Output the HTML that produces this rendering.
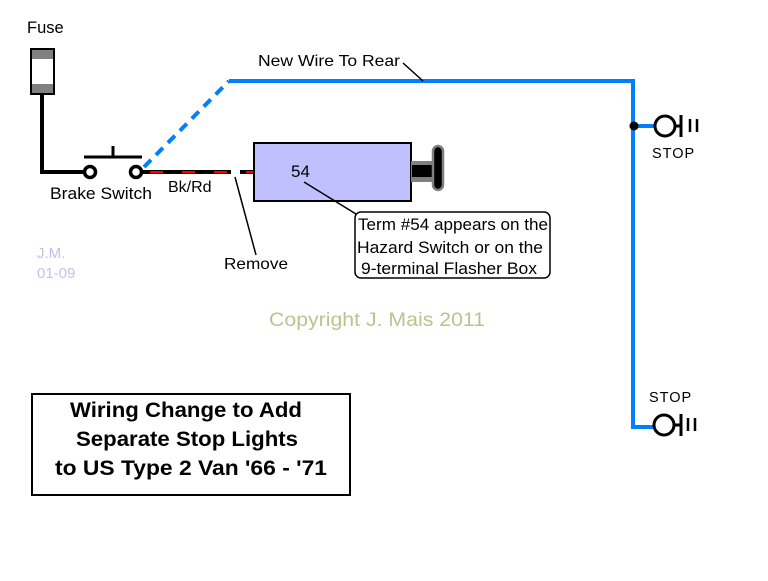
<!DOCTYPE html>
<html><head><style>html,body{margin:0;padding:0;background:#fff}</style></head>
<body>
<svg width="768" height="576" viewBox="0 0 768 576" xmlns="http://www.w3.org/2000/svg" font-family="Liberation Sans, sans-serif">
<rect width="768" height="576" fill="#fff"/>
<text x="27" y="33" font-size="16.5">Fuse</text>
<rect x="31" y="49" width="23" height="45" fill="#fff" stroke="#000" stroke-width="2"/>
<rect x="32" y="50" width="21" height="9" fill="#808080"/>
<rect x="32" y="84" width="21" height="9" fill="#808080"/>
<polyline points="42,94 42,172 86,172" fill="none" stroke="#000" stroke-width="4"/>
<line x1="84" y1="157" x2="142" y2="157" stroke="#000" stroke-width="3"/>
<line x1="113" y1="146" x2="113" y2="157" stroke="#000" stroke-width="3"/>
<circle cx="90" cy="172" r="5.5" fill="#fff" stroke="#000" stroke-width="3.5"/>
<circle cx="136" cy="172" r="5.5" fill="#fff" stroke="#000" stroke-width="3.5"/>
<text x="50" y="199" font-size="16.5" textLength="102" lengthAdjust="spacingAndGlyphs">Brake Switch</text>
<line x1="144" y1="167" x2="229" y2="81" stroke="#0080ff" stroke-width="4" stroke-dasharray="10,7"/>
<polyline points="229,81 633,81 633,427 655,427" fill="none" stroke="#0080ff" stroke-width="4"/>
<line x1="633" y1="126" x2="655" y2="126" stroke="#0080ff" stroke-width="4"/>
<circle cx="634" cy="126" r="4.5" fill="#000"/>
<text x="258" y="66" font-size="16" textLength="142" lengthAdjust="spacingAndGlyphs">New Wire To Rear</text>
<line x1="403" y1="63" x2="423" y2="81" stroke="#000" stroke-width="1.5"/>
<g stroke="#000" fill="none" stroke-width="3">
<circle cx="665" cy="126" r="10"/><line x1="675" y1="126" x2="681" y2="126"/><line x1="681" y1="115" x2="681" y2="137"/>
<line x1="690" y1="119" x2="690" y2="132" stroke-width="2.5"/><line x1="697" y1="119" x2="697" y2="132" stroke-width="2.5"/>
<circle cx="664" cy="425" r="10"/><line x1="674" y1="425" x2="681" y2="425"/><line x1="681" y1="414" x2="681" y2="436"/>
<line x1="688" y1="418" x2="688" y2="431" stroke-width="2.5"/><line x1="695" y1="418" x2="695" y2="431" stroke-width="2.5"/>
</g>
<text x="652" y="158" font-size="14.5" letter-spacing="1">STOP</text>
<text x="649" y="402" font-size="14.5" letter-spacing="1">STOP</text>
<line x1="142" y1="172" x2="231" y2="172" stroke="#000" stroke-width="4"/>
<line x1="240" y1="172" x2="270" y2="172" stroke="#000" stroke-width="4"/>
<line x1="150" y1="172" x2="231" y2="172" stroke="#ff0000" stroke-width="2" stroke-dasharray="13,19"/>
<line x1="246" y1="172" x2="262" y2="172" stroke="#ff0000" stroke-width="2"/>
<circle cx="273" cy="171" r="3.5" fill="#fff" stroke="#000" stroke-width="3"/>
<text x="168" y="192" font-size="16">Bk/Rd</text>
<line x1="235" y1="177" x2="256" y2="255" stroke="#000" stroke-width="1.5"/>
<text x="224" y="269" font-size="16" textLength="64" lengthAdjust="spacingAndGlyphs">Remove</text>
<rect x="254" y="143" width="157" height="58" fill="#c0c0ff" stroke="#000" stroke-width="2"/>
<rect x="411" y="161" width="23" height="21" fill="#808080"/>
<rect x="412" y="165" width="22" height="12" fill="#000"/>
<rect x="433" y="146" width="10" height="44" rx="5" fill="#000" stroke="#808080" stroke-width="2.5"/>
<text x="291" y="177" font-size="17">54</text>
<line x1="304" y1="182" x2="356" y2="214" stroke="#000" stroke-width="1.5"/>
<rect x="355" y="212" width="195" height="66" rx="6" fill="#fff" stroke="#000" stroke-width="1.5"/>
<text x="358" y="230" font-size="17" textLength="190" lengthAdjust="spacingAndGlyphs">Term #54 appears on the</text>
<text x="357" y="253" font-size="17" textLength="186" lengthAdjust="spacingAndGlyphs">Hazard Switch or on the</text>
<text x="361" y="274" font-size="17" textLength="176" lengthAdjust="spacingAndGlyphs">9-terminal Flasher Box</text>
<text x="37" y="258" font-size="15" fill="#c0c0f0">J.M.</text>
<text x="37" y="278" font-size="15" fill="#c0c0f0">01-09</text>
<text x="269" y="326" font-size="19.5" fill="#c0c090" textLength="216" lengthAdjust="spacingAndGlyphs">Copyright J. Mais 2011</text>
<rect x="32" y="394" width="318" height="101" fill="#fff" stroke="#000" stroke-width="2"/>
<g font-size="21" font-weight="bold" text-anchor="middle">
<text x="186" y="417" textLength="232" lengthAdjust="spacingAndGlyphs">Wiring Change to Add</text>
<text x="187" y="446" textLength="222" lengthAdjust="spacingAndGlyphs">Separate Stop Lights</text>
<text x="191" y="475" textLength="272" lengthAdjust="spacingAndGlyphs">to US Type 2 Van '66 - '71</text>
</g>
</svg>
</body></html>
